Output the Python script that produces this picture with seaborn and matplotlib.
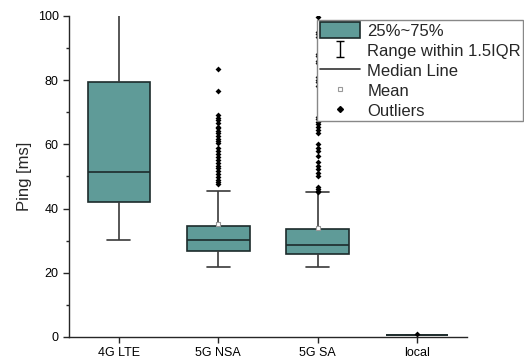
import numpy as np
import pandas as pd
import matplotlib.pyplot as plt
import seaborn as sns
from matplotlib.lines import Line2D
from matplotlib.patches import Patch
from matplotlib.path import Path
from matplotlib.ticker import MultipleLocator

# box statistics: whisker low, Q1, median, Q3, whisker high
categories = ["4G LTE", "5G NSA", "5G SA", "local"]
whisker_low = [30.2, 21.8, 21.7, 0.7]
q1 = [42.0, 26.7, 25.8, 0.7]
median = [51.5, 30.2, 28.6, 0.7]
q3 = [79.3, 34.6, 33.5, 0.72]
whisker_high = [104.0, 45.6, 45.0, 0.72]
means = [np.nan, 35.3, 34.0, np.nan]

outliers_nsa = [83.5, 76.5, 69.0, 68.3, 67.6, 66.5, 65.5, 65.0, 64.2, 63.4, 62.6,
                61.8, 61.0, 60.3, 58.8, 57.8, 57.0, 56.0, 55.0, 54.2, 53.3, 52.5,
                51.6, 50.7, 49.8, 49.0, 48.2, 47.5]
outliers_sa = [99.6, 95.0, 94.4, 93.6, 88.2, 87.4, 86.0, 85.3, 81.0, 80.2, 79.3,
               78.2, 68.6, 67.8, 67.0, 66.2, 65.3, 64.4, 63.6, 60.2, 59.0, 57.8,
               56.4, 54.6, 53.4, 52.2, 51.0, 50.0, 46.8, 46.2, 45.6, 45.2]
outliers_local = [0.95]

box_color = "#5f9b98"
edge_color = "#1c2b2b"
whisker_color = "#3a3a3a"

# five points per group give exactly these quartiles with whis=(0, 100)
rows = []
for i, cat in enumerate(categories):
    for v in [whisker_low[i], q1[i], median[i], q3[i], whisker_high[i]]:
        rows.append({"net": cat, "ping": v})
box_df = pd.DataFrame(rows)

out_df = pd.DataFrame(
    [{"net": "5G NSA", "ping": v} for v in outliers_nsa]
    + [{"net": "5G SA", "ping": v} for v in outliers_sa]
    + [{"net": "local", "ping": v} for v in outliers_local]
)
mean_df = pd.DataFrame({"net": categories, "ping": means}).dropna()

sns.set_style("ticks")
plt.rcParams["font.family"] = ["Liberation Sans", "DejaVu Sans"]

fig = plt.figure(figsize=(5.24, 3.63), dpi=100)
ax = fig.add_axes([0.132, 0.072, 0.759, 0.884])

sns.boxplot(data=box_df, x="net", y="ping", order=categories, ax=ax,
            whis=(0, 100), width=0.63, color=box_color, saturation=1,
            showfliers=False, linecolor=edge_color, linewidth=1.2,
            capwidths=0.23,
            boxprops=dict(facecolor=box_color, edgecolor=edge_color),
            whiskerprops=dict(color=whisker_color),
            capprops=dict(color=whisker_color),
            medianprops=dict(color=edge_color))

sns.stripplot(data=out_df, x="net", y="ping", order=categories, ax=ax,
              jitter=False, marker="D", size=3, color="black")
sns.stripplot(data=mean_df, x="net", y="ping", order=categories, ax=ax,
              jitter=False, marker="s", size=3, color="white",
              edgecolor="#999999", linewidth=0.8)

ax.set_ylim(0, 100)
ax.set_xlim(-0.5, 3.5)
ax.yaxis.set_major_locator(MultipleLocator(20))
ax.yaxis.set_minor_locator(MultipleLocator(10))
ax.tick_params(axis="both", labelsize=9, labelcolor="black", direction="out",
               length=4, width=1)
ax.tick_params(axis="y", which="minor", length=2.5, width=1)
ax.set_xlabel("")
ax.set_ylabel("Ping [ms]", fontsize=12)
sns.despine(ax=ax)
for s in ["left", "bottom"]:
    ax.spines[s].set_linewidth(1)

# I-bar symbol for whisker range
ibar = Path([(-0.45, -1), (0.45, -1), (0, -1), (0, 1), (-0.45, 1), (0.45, 1)],
            [Path.MOVETO, Path.LINETO, Path.MOVETO, Path.LINETO, Path.MOVETO, Path.LINETO])
handles = [
    Patch(facecolor=box_color, edgecolor=edge_color, linewidth=1.2),
    Line2D([], [], linestyle="none", marker=ibar, markersize=12, color="black",
           markeredgewidth=1),
    Line2D([], [], color="#333333", linewidth=1.2),
    Line2D([], [], linestyle="none", marker="s", markersize=3, markerfacecolor="white",
           markeredgecolor="#999999", markeredgewidth=0.8),
    Line2D([], [], linestyle="none", marker="D", markersize=3, color="black"),
]
labels = ["25%~75%", "Range within 1.5IQR", "Median Line", "Mean", "Outliers"]
leg = fig.legend(handles, labels, loc="upper right", bbox_to_anchor=(0.999, 0.946),
                 fontsize=12, frameon=True, fancybox=False, edgecolor="#888888",
                 framealpha=1, handlelength=2.4, handleheight=1.1,
                 labelspacing=0.2, borderpad=0.15, handletextpad=0.45,
                 borderaxespad=0)
leg.get_frame().set_linewidth(1)

fig.savefig("out.png", dpi=100)
